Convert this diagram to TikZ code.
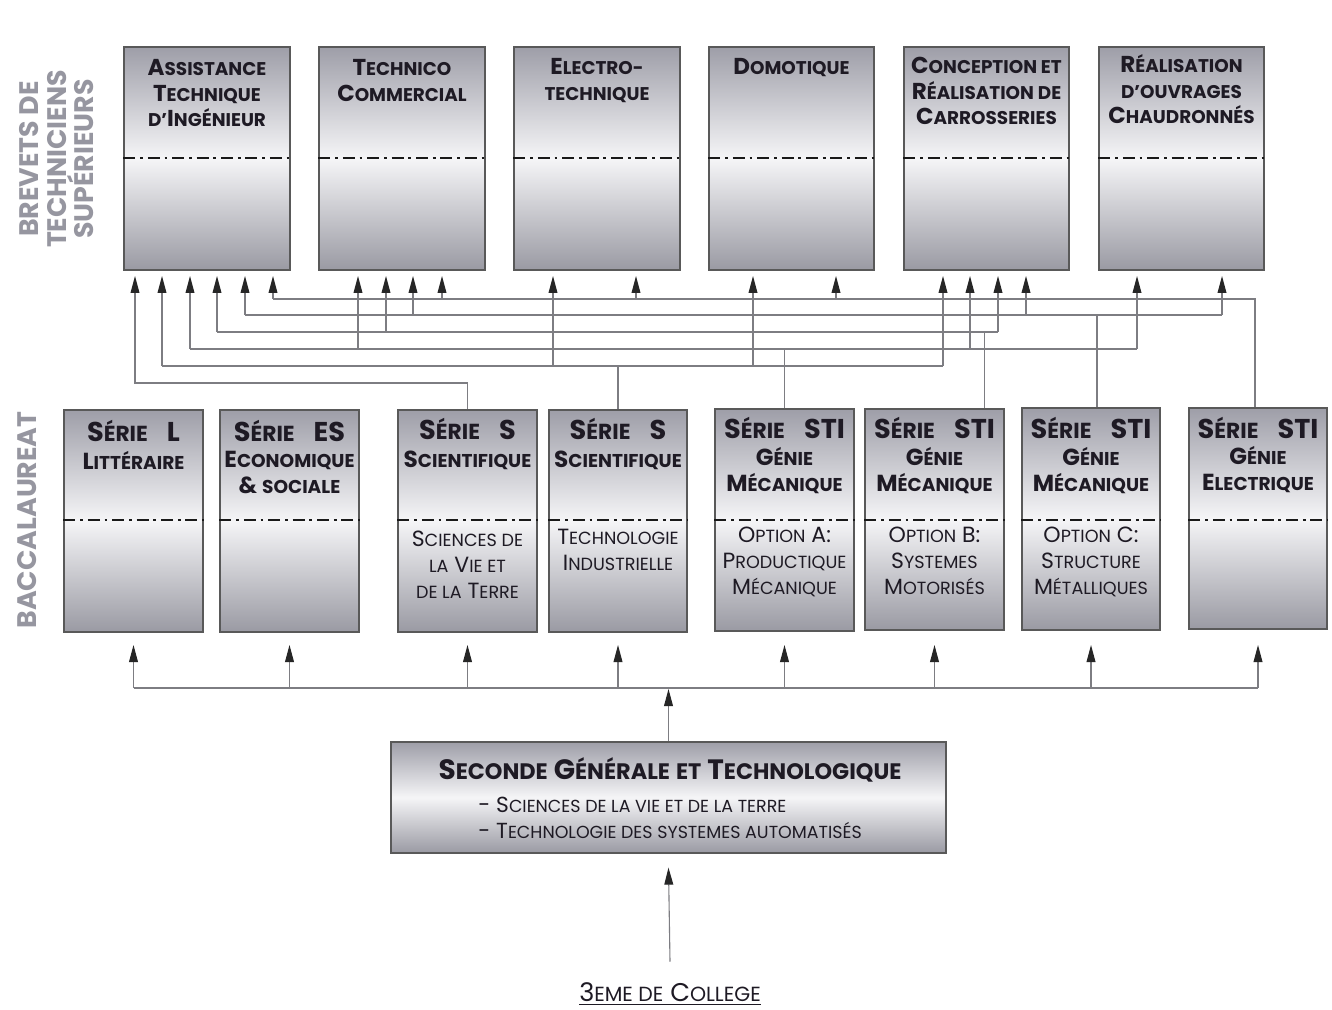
\documentclass[tikz,border=0pt]{standalone}
\usepackage{fontspec}
\setmainfont{Poppins}
\usetikzlibrary{arrows.meta,calc,fit}
\definecolor{boxtop}{RGB}{158,158,168}
\definecolor{boxmid}{RGB}{245,245,247}
\definecolor{boxbot}{RGB}{154,154,163}
\definecolor{linegray}{RGB}{125,125,130}
\definecolor{sidegray}{RGB}{150,150,160}
\definecolor{txt}{RGB}{30,26,36}
\makeatletter
\newcommand\lc[1]{{\fontsize{\fpeval{\f@size*0.8}}{\f@baselineskip}\selectfont #1}}
\makeatother
\newcommand\vp{\vphantom{É}}
\begin{document}
\begin{tikzpicture}[x=0.5pt,y=-0.5pt,
  box/.style={draw=black!65, line width=0.6pt, top color=boxtop, bottom color=boxbot, middle color=boxmid, inner sep=0pt},
  sepline/.style={line width=1.25pt, black!90, dash pattern=on 6pt off 2.4pt on 1.4pt off 2.4pt},
  conn/.style={draw=linegray, line width=0.55pt},
  arr/.style={conn, -{Triangle[length=8.5pt,width=4.4pt,color=black!85]}},
  bt/.style={font=\bfseries\fontsize{11.5pt}{12.75pt}\selectfont, align=center, inner sep=0pt, text=txt, anchor=north},
  st/.style={font=\bfseries\fontsize{13.6pt}{14pt}\selectfont, inner sep=0pt, text=txt, anchor=base},
  sub/.style={font=\bfseries\fontsize{11.6pt}{13pt}\selectfont, align=center, inner sep=0pt, text=txt, anchor=north},
  lt/.style={font=\fontsize{11pt}{13pt}\selectfont, align=center, inner sep=0pt, text=txt, anchor=north},
  side/.style={font=\bfseries\fontsize{13.4pt}{13.75pt}\selectfont, align=center, text=sidegray, rotate=90, inner sep=0pt}
]
\fill[white] (0,0) rectangle (1332,1010);
\useasboundingbox (0,0) rectangle (1332,1010);

% side labels
\node[side] (lbts) at (57,159) {BREVETS DE\\TECHNICIENS\\SUPÉRIEURS};
\node[side] (lbac) at (27,520) {BACCALAUREAT};

% BTS boxes
\node[box, fit={(124,47) (290,270)}] (ati) {};
\node[box, fit={(319,47) (485,270)}] (tc) {};
\node[box, fit={(514,47) (680,270)}] (ele) {};
\node[box, fit={(709,47) (874,270)}] (dom) {};
\node[box, fit={(904,47) (1069,270)}] (crc) {};
\node[box, fit={(1099,47) (1264,270)}] (roc) {};
\foreach \b in {ati,tc,ele,dom,crc,roc}
  \draw[sepline] (\b.west |- 0,158) -- (\b.east |- 0,158);

\node[bt] (ati-t) at (ati.north |- 0,53) {\vp A\lc{SSISTANCE}\\T\lc{ECHNIQUE}\\\lc{D'}I\lc{NGÉNIEUR}};
\node[bt] (tc-t) at (tc.north |- 0,53) {\vp T\lc{ECHNICO}\\C\lc{OMMERCIAL}};
\node[bt] (ele-t) at (ele.north |- 0,52) {\vp E\lc{LECTRO-}\\\lc{TECHNIQUE}};
\node[bt] (dom-t) at (dom.north |- 0,52) {\vp D\lc{OMOTIQUE}};
\node[bt] (crc-t) at (crc.north |- 0,51) {\vp C\lc{ONCEPTION ET}\\R\lc{ÉALISATION DE}\\C\lc{ARROSSERIES}};
\node[bt] (roc-t) at (roc.north |- 0,50) {\vp R\lc{ÉALISATION}\\\lc{D'OUVRAGES}\\C\lc{HAUDRONNÉS}};

% Bac boxes
\node[box, fit={(64,410) (203,632)}] (bl) {};
\node[box, fit={(220,410) (359,632)}] (bes) {};
\node[box, fit={(398,410) (537,632)}] (svt) {};
\node[box, fit={(549,410) (687,632)}] (tio) {};
\node[box, fit={(715,409) (854,631)}] (stia) {};
\node[box, fit={(865,409) (1004,630)}] (stib) {};
\node[box, fit={(1022,408) (1160,630)}] (stic) {};
\node[box, fit={(1189,408) (1327,629)}] (stie) {};
\foreach \b in {bl,bes,svt,tio,stia,stib,stic,stie}
  \draw[sepline] (\b.west |- 0,520) -- (\b.east |- 0,520);

\node[st] (bl-t) at (bl.north |- 0,441) {S\lc{ÉRIE}\hspace{0.7em}L};
\node[st] (bes-t) at (bes.north |- 0,441) {S\lc{ÉRIE}\hspace{0.7em}ES};
\node[st] (svt-t) at (svt.north |- 0,439) {S\lc{ÉRIE}\hspace{0.7em}S};
\node[st] (tio-t) at (tio.north |- 0,439) {S\lc{ÉRIE}\hspace{0.7em}S};
\node[st] (stia-t) at (stia.north |- 0,438) {S\lc{ÉRIE}\hspace{0.7em}STI};
\node[st] (stib-t) at (stib.north |- 0,438) {S\lc{ÉRIE}\hspace{0.7em}STI};
\node[st] (stic-t) at (stic.north |- 0,438) {S\lc{ÉRIE}\hspace{0.7em}STI};
\node[st] (stie-t) at (stie.north |- 0,438) {S\lc{ÉRIE}\hspace{0.7em}STI};

\node[sub] (bl-s) at (bl.north |- 0,446) {\vp L\lc{ITTÉRAIRE}};
\node[sub] (bes-s) at (bes.north |- 0,444) {\vp E\lc{CONOMIQUE}\\\& \lc{SOCIALE}};
\node[sub] (svt-s) at (svt.north |- 0,444) {\vp S\lc{CIENTIFIQUE}};
\node[sub] (tio-s) at (tio.north |- 0,444) {\vp S\lc{CIENTIFIQUE}};
\node[sub] (stia-s) at (stia.north |- 0,442) {\vp G\lc{ÉNIE}\\M\lc{ÉCANIQUE}};
\node[sub] (stib-s) at (stib.north |- 0,442) {\vp G\lc{ÉNIE}\\M\lc{ÉCANIQUE}};
\node[sub] (stic-s) at (stic.north |- 0,442) {\vp G\lc{ÉNIE}\\M\lc{ÉCANIQUE}};
\node[sub] (stie-s) at (stie.north |- 0,441) {\vp G\lc{ÉNIE}\\E\lc{LECTRIQUE}};

\node[lt] (svt-l) at (svt.north |- 0,526) {\vp S\lc{CIENCES DE}\\\lc{LA} V\lc{IE ET}\\\lc{DE LA} T\lc{ERRE}};
\node[lt] (tio-l) at (tio.north |- 0,524) {\vp T\lc{ECHNOLOGIE}\\I\lc{NDUSTRIELLE}};
\node[lt] (stia-l) at (stia.north |- 0,522) {\vp O\lc{PTION} A:\\P\lc{RODUCTIQUE}\\M\lc{ÉCANIQUE}};
\node[lt] (stib-l) at (stib.north |- 0,522) {\vp O\lc{PTION} B:\\S\lc{YSTEMES}\\M\lc{OTORISÉS}};
\node[lt] (stic-l) at (stic.north |- 0,522) {\vp O\lc{PTION} C:\\S\lc{TRUCTURE}\\M\lc{ÉTALLIQUES}};

% Seconde
\node[box, fit={(391,742) (946,853)}] (sec) {};
\node[st, font=\bfseries\fontsize{14pt}{15pt}\selectfont] (sec-t) at (670,779) {S\lc{ECONDE} G\lc{ÉNÉRALE} \lc{ET} T\lc{ECHNOLOGIQUE}};
\node[lt, align=left, anchor=north west, font=\fontsize{10.9pt}{13pt}\selectfont] (sec-l) at (478,792) {\vp - S\lc{CIENCES DE LA VIE ET DE LA TERRE}\\- T\lc{ECHNOLOGIE DES SYSTEMES AUTOMATISÉS}};

\node[inner sep=0pt, anchor=base, text=txt, font=\fontsize{12.8pt}{14pt}\selectfont] (col) at (670,1001) {\underline{3\lc{EME DE} C\lc{OLLEGE}}};

% BTS arrow tips
\foreach \n/\x in {ati1/135,ati2/162,ati3/190,ati4/217,ati5/245,ati6/273,
  tc1/358,tc2/386,tc3/413,tc4/442,ele1/553,ele2/636,dom1/753,dom2/836,
  crc1/943,crc2/970,crc3/998,crc4/1026,roc1/1137,roc2/1222}
  \coordinate (\n) at (\x,276);

% Serie S SVT
\draw[arr] (svt.north) |- (ati1 |- 0,383) -- (ati1);
% Serie S TI
\draw[conn] (tio.north) -- (tio.north |- 0,366);
\draw[conn] (ati2 |- 0,366) -- (crc1 |- 0,366);
\foreach \t in {ati2,ele1,dom1,crc1} \draw[arr] (\t |- 0,366) -- (\t);
% STI A
\draw[conn] (stia.north) -- (stia.north |- 0,349);
\draw[conn] (ati3 |- 0,349) -- (roc1 |- 0,349);
\foreach \t in {ati3,tc1,crc2,roc1} \draw[arr] (\t |- 0,349) -- (\t);
% STI B
\coordinate (stibo) at ($(stib.north)+(50,0)$);
\draw[conn] (stibo) -- (stibo |- 0,332);
\draw[conn] (ati4 |- 0,332) -- (crc3 |- 0,332);
\foreach \t in {ati4,tc2,crc3} \draw[arr] (\t |- 0,332) -- (\t);
% STI C
\coordinate (stico) at ($(stic.north)+(6,0)$);
\draw[conn] (stico) -- (stico |- 0,315);
\draw[conn] (ati5 |- 0,315) -- (roc2 |- 0,315);
\foreach \t in {ati5,tc3,crc4,roc2} \draw[arr] (\t |- 0,315) -- (\t);
% STI E
\coordinate (stieo) at ($(stie.north)+(-3,0)$);
\draw[conn] (stieo) |- (ati6 |- 0,299);
\foreach \t in {ati6,tc4,ele2,dom2} \draw[arr] (\t |- 0,299) -- (\t);

% distribution from Seconde
\draw[conn] (bl.south |- 0,688) -- (stie.south |- 0,688);
\foreach \b in {bl,bes,svt,tio,stia,stib,stic,stie}
  \draw[arr] (\b.south |- 0,688) -- ($(\b.south |- 0,631)+(0,14)$);
\draw[arr] (sec.north) -- (sec.north |- 0,689);
\draw[arr] ($(col.north)+(0,-20)$) -- ($(sec.south)+(0,14)$);
\end{tikzpicture}
\end{document}
